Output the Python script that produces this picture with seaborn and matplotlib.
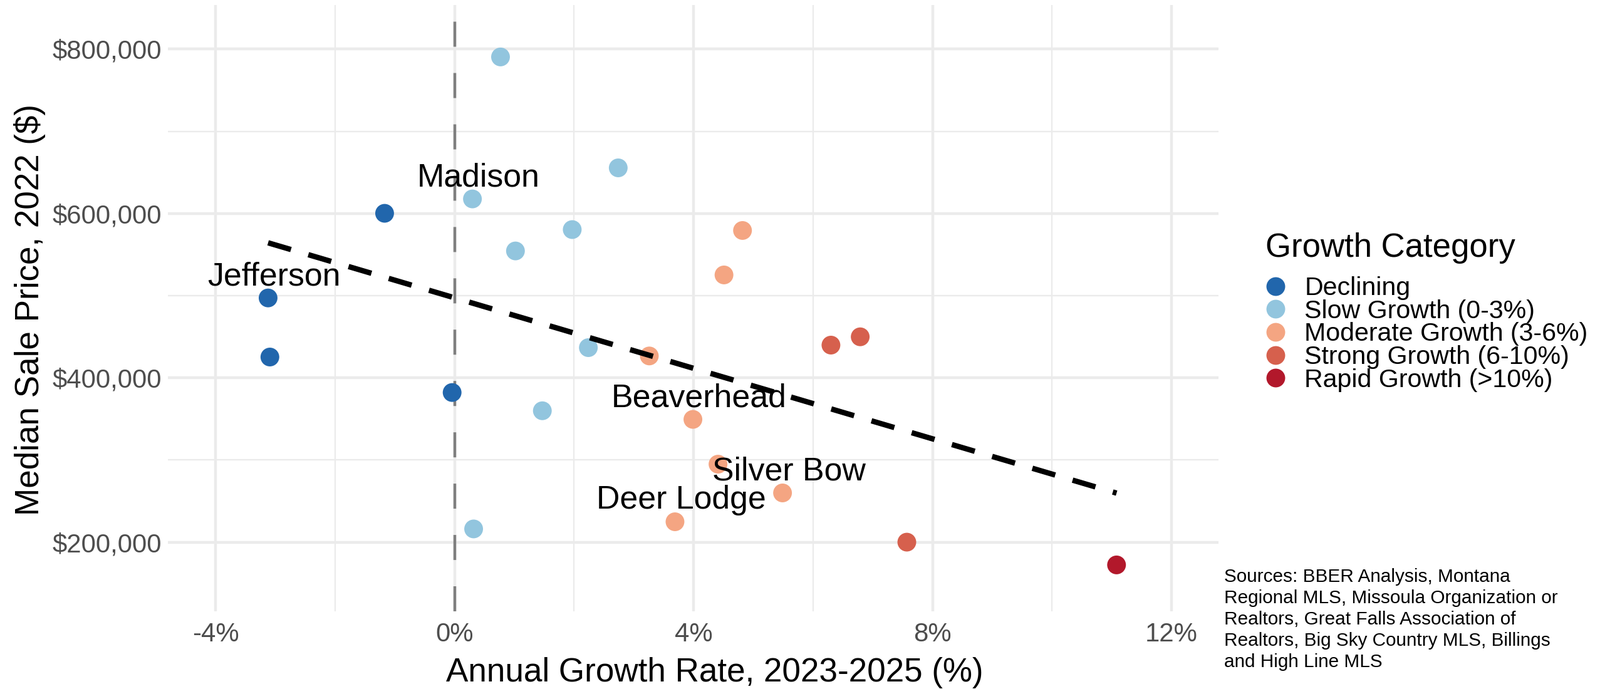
import numpy as np
import pandas as pd
import seaborn as sns
import matplotlib
matplotlib.use("Agg")
import matplotlib.pyplot as plt
from matplotlib.ticker import FuncFormatter, FixedLocator

# values
growth_pct = [0.77, 2.74, 0.30, -1.17, 1.97, 1.02, -3.12, -3.09, 2.24, -0.04, 1.47, 0.32,
              4.82, 4.51, 6.79, 6.30, 3.26, 3.99, 4.41, 5.49, 3.69, 7.57, 11.08]
median_price = [790500, 655500, 617700, 600200, 580400, 554400, 497200, 425300, 436700, 382100, 359900, 216100,
                579300, 525200, 449900, 439800, 426600, 349400, 294900, 259900, 224800, 200000, 172300]
category = ["Slow Growth (0-3%)", "Slow Growth (0-3%)", "Slow Growth (0-3%)", "Declining",
            "Slow Growth (0-3%)", "Slow Growth (0-3%)", "Declining", "Declining",
            "Slow Growth (0-3%)", "Declining", "Slow Growth (0-3%)", "Slow Growth (0-3%)",
            "Moderate Growth (3-6%)", "Moderate Growth (3-6%)", "Strong Growth (6-10%)", "Strong Growth (6-10%)",
            "Moderate Growth (3-6%)", "Moderate Growth (3-6%)", "Moderate Growth (3-6%)", "Moderate Growth (3-6%)",
            "Moderate Growth (3-6%)", "Strong Growth (6-10%)", "Rapid Growth (>10%)"]
county = ["", "", "Madison", "", "", "", "Jefferson", "", "", "", "", "",
          "", "", "", "", "", "Beaverhead", "", "Silver Bow", "Deer Lodge", "", ""]

cat_order = ["Declining", "Slow Growth (0-3%)", "Moderate Growth (3-6%)",
             "Strong Growth (6-10%)", "Rapid Growth (>10%)"]
cat_colors = ["#2166AC", "#92C5DE", "#F4A582", "#D6604D", "#B2182B"]

x_major = [-4, 0, 4, 8, 12]
x_minor = [-2, 2, 6, 10]
y_major = [200000, 400000, 600000, 800000]
y_minor = [300000, 500000, 700000]

caption = ("Sources: BBER Analysis, Montana\nRegional MLS, Missoula Organization or\n"
           "Realtors, Great Falls Association of\nRealtors, Big Sky Country MLS, Billings\n"
           "and High Line MLS")

df = pd.DataFrame({"growth": growth_pct, "price": median_price,
                   "cat": category, "county": county})

sns.set_style("white")
plt.rcParams["font.family"] = ["Liberation Sans", "DejaVu Sans"]
plt.rcParams["lines.scale_dashes"] = False

W, H = 2554, 1100
fig = plt.figure(figsize=(W / 200, H / 200), dpi=200)
L, R, T, B = 268, 1945, 8, 976
ax = fig.add_axes([L / W, 1 - B / H, (R - L) / W, (B - T) / H])

ax.set_xlim(-4.797, 12.786)
ax.set_ylim(115800, 853700)

# grid
for v in x_major:
    ax.axvline(v, color="#EBEBEB", lw=1.6, zorder=0)
for v in x_minor:
    ax.axvline(v, color="#EBEBEB", lw=0.85, zorder=0)
for v in y_major:
    ax.axhline(v, color="#EBEBEB", lw=1.6, zorder=0)
for v in y_minor:
    ax.axhline(v, color="#EBEBEB", lw=0.85, zorder=0)

ax.axvline(0, color="#7F7F7F", lw=1.6, linestyle=(0, (14.4, 15.1)), zorder=1)

sns.scatterplot(data=df, x="growth", y="price", hue="cat", hue_order=cat_order,
                palette=dict(zip(cat_order, cat_colors)), s=116, linewidth=0,
                ax=ax, zorder=2)

sns.regplot(data=df, x="growth", y="price", scatter=False, ci=None, truncate=True,
            color="black", ax=ax,
            line_kws=dict(lw=3.1, linestyle=(0, (13.7, 10.4)), dash_capstyle="butt", zorder=3))

for _, r in df[df["county"] != ""].iterrows():
    ax.annotate(r["county"], (r["growth"], r["price"]), xytext=(3.6, 7.4),
                textcoords="offset points", ha="center", va="baseline",
                fontsize=18.7, color="black", zorder=4)

for s in ax.spines.values():
    s.set_visible(False)
ax.xaxis.set_major_locator(FixedLocator(x_major))
ax.yaxis.set_major_locator(FixedLocator(y_major))
ax.xaxis.set_major_formatter(FuncFormatter(lambda v, p: f"{v:.0f}%"))
ax.yaxis.set_major_formatter(FuncFormatter(lambda v, p: f"${v:,.0f}"))
ax.tick_params(axis="both", length=0, labelsize=15.1, labelcolor="#4D4D4D")
ax.tick_params(axis="x", pad=6.3)
ax.tick_params(axis="y", pad=3.6)

ax.set_xlabel("Annual Growth Rate, 2023-2025 (%)", fontsize=19.1, color="black")
ax.set_ylabel("Median Sale Price, 2022 ($)", fontsize=19.1, color="black")
ax.xaxis.set_label_coords((1140.5 - L) / (R - L), (B - 1049) / (B - T))
ax.yaxis.set_label_coords((73 - L) / (R - L), (B - 494.5) / (B - T))

sns.move_legend(ax, "upper left", bbox_to_anchor=(2020 / W, 1 - 371 / H),
                bbox_transform=fig.transFigure, title="Growth Category",
                frameon=False, fontsize=14.8, title_fontsize=19,
                labelspacing=-0.034, handletextpad=0.72, handlelength=0.8,
                borderpad=0, borderaxespad=0, alignment="left", labelcolor="black")
leg = ax.get_legend()
leg.get_title().set_color("black")
leg._legend_box.sep = 7.3

fig.text(1954 / W, 1 - 907 / H, caption, ha="left", va="top",
         fontsize=10.7, linespacing=1.27, color="black")

fig.savefig("out.png", dpi=200, facecolor="white")
